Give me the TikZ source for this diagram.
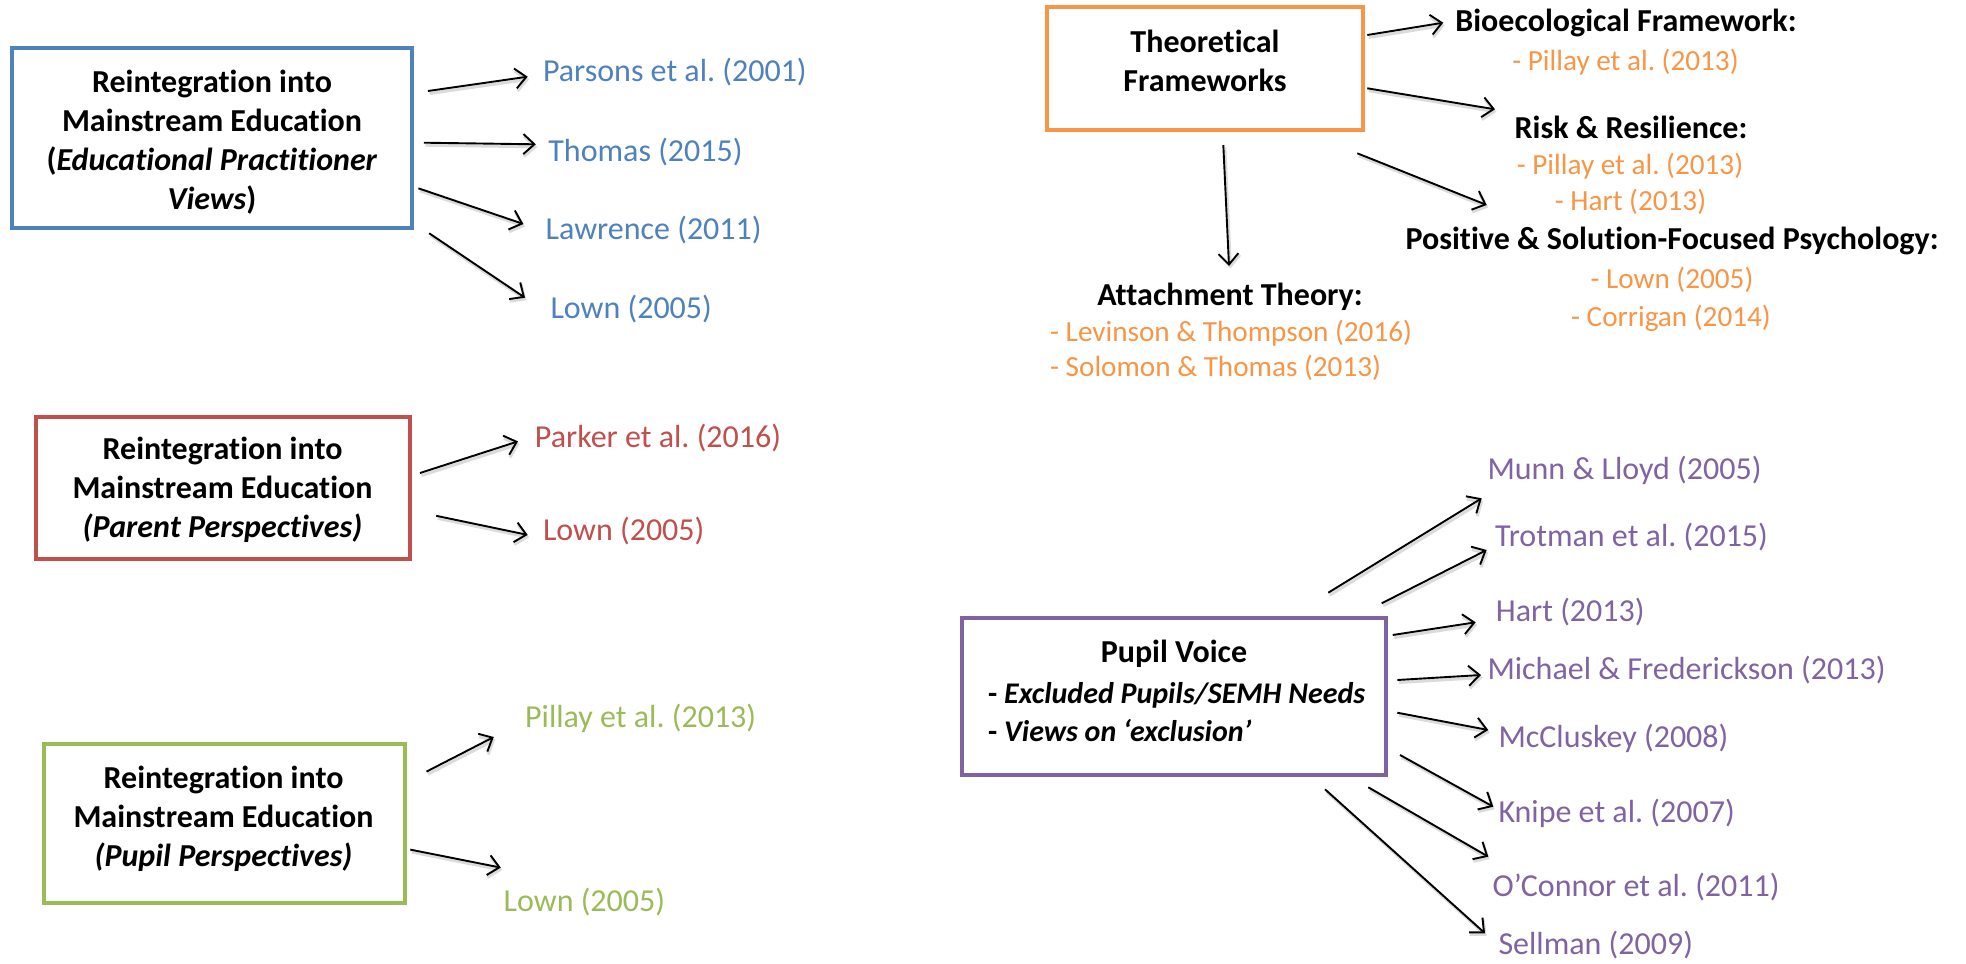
\documentclass[tikz,border=0pt]{standalone}
\usepackage{fontspec}
\setmainfont{Carlito}[Ligatures=NoCommon]
\usetikzlibrary{arrows.meta}
\definecolor{cblue}{HTML}{4F81BD}
\definecolor{cred}{HTML}{C0504D}
\definecolor{cgreen}{HTML}{9BBB59}
\definecolor{corange}{HTML}{F79646}
\definecolor{cpurple}{HTML}{8064A2}
\frenchspacing
\begin{document}
\begin{tikzpicture}[x=1pt,y=-1pt,
  box/.style={draw, line width=4pt, inner sep=0pt, fill=white},
  btext/.style={font=\fontsize{32}{38.8}\selectfont\bfseries, align=center, inner sep=0pt},
  ltext/.style={font=\fontsize{30}{38}\selectfont\bfseries, align=left, inner sep=0pt},
  lab/.style={font=\fontsize{32}{38}\selectfont, anchor=west, inner sep=0pt},
  clab/.style={font=\fontsize{29.2}{35}\selectfont, inner sep=0pt},
  hd/.style={font=\fontsize{32}{38}\selectfont\bfseries, inner sep=0pt},
  arr/.style={-{Straight Barb[length=11pt,width=20pt]}, line width=1.9pt,
    preaction={draw=black!14, line width=3pt, transform canvas={shift={(1.5pt,-2.5pt)}}}}]
\useasboundingbox[fill=white] (0,0) rectangle (1966,964);

% ---------- Blue group ----------
\node[box, draw=cblue, minimum width=400pt, minimum height=180.5pt] (bbox) at (212,138.2) {};
\node[btext] (btxt) at (212,142) {Reintegration into\\Mainstream Education\\(\textit{Educational Practitioner}\\\textit{Views})};
\node[lab, text=cblue] (b1) at (542.8,71.7) {Parsons et al. (2001)};
\node[lab, text=cblue] (b2) at (548.2,151.7) {Thomas (2015)};
\node[lab, text=cblue] (b3) at (545.5,230) {Lawrence (2011)};
\node[lab, text=cblue] (b4) at (550.3,309.3) {Lown (2005)};
\coordinate (b1s) at (428,91);      \coordinate (b1e) at (527.7,76.7);
\coordinate (b2s) at (423.8,142.7); \coordinate (b2e) at (535.8,144.3);
\coordinate (b3s) at (418.4,188.3); \coordinate (b3e) at (523.4,224);
\coordinate (b4s) at (429.2,233.3); \coordinate (b4e) at (525,297.7);
\draw[arr] (b1s) -- (b1e);
\draw[arr] (b2s) -- (b2e);
\draw[arr] (b3s) -- (b3e);
\draw[arr] (b4s) -- (b4e);

% ---------- Red group ----------
\node[box, draw=cred, minimum width=374.3pt, minimum height=142.5pt] (rbox) at (223.2,488.2) {};
\node[btext] (rtxt) at (222.5,489.6) {Reintegration into\\Mainstream Education\\\textit{(Parent Perspectives)}};
\node[lab, text=cred] (r1) at (534.7,437.8) {Parker et al. (2016)};
\node[lab, text=cred] (r2) at (542.8,531.3) {Lown (2005)};
\coordinate (r1s) at (420,473);     \coordinate (r1e) at (518,441.4);
\coordinate (r2s) at (436.2,515.8); \coordinate (r2e) at (527.7,534.9);
\draw[arr] (r1s) -- (r1e);
\draw[arr] (r2s) -- (r2e);

% ---------- Green group ----------
\node[box, draw=cgreen, minimum width=360.8pt, minimum height=158.7pt] (gbox) at (224.6,823.5) {};
\node[btext] (gtxt) at (223.5,819) {Reintegration into\\Mainstream Education\\\textit{(Pupil Perspectives)}};
\node[lab, text=cgreen] (g1) at (525,718.3) {Pillay et al. (2013)};
\node[lab, text=cgreen] (g2) at (503.5,901.8) {Lown (2005)};
\coordinate (g1s) at (426.5,771.6); \coordinate (g1e) at (493.8,737);
\coordinate (g2s) at (410.3,849.6); \coordinate (g2e) at (500.8,867.6);
\draw[arr] (g1s) -- (g1e);
\draw[arr] (g2s) -- (g2e);

% ---------- Orange group ----------
\node[box, draw=corange, minimum width=315.4pt, minimum height=122.7pt] (obox) at (1205,68.7) {};
\node[btext, font=\fontsize{32}{38.3}\selectfont\bfseries] (otxt) at (1205,60.8) {Theoretical\\Frameworks};
\node[hd] (o1h) at (1626,23.3) {Bioecological Framework:};
\node[clab, text=corange] (o1a) at (1625.5,61.7) {- Pillay et al. (2013)};
\node[hd] (o2h) at (1631,127.7) {Risk \& Resilience:};
\node[clab, text=corange] (o2a) at (1630,165.7) {- Pillay et al. (2013)};
\node[clab, text=corange] (o2b) at (1630.5,201.7) {- Hart (2013)};
\node[hd] (o3h) at (1672,240.7) {Positive \& Solution-Focused Psychology:};
\node[clab, text=corange] (o3a) at (1672,280) {- Lown (2005)};
\node[clab, text=corange] (o3b) at (1671,318.3) {- Corrigan (2014)};
\node[hd] (o4h) at (1230,296.7) {Attachment Theory:};
\node[clab, anchor=west, text=corange] (o4a) at (1050,333.3) {- Levinson \& Thompson (2016)};
\node[clab, anchor=west, text=corange] (o4b) at (1050,368.3) {- Solomon \& Thomas (2013)};
\coordinate (o1s) at (1367.3,35);   \coordinate (o1e) at (1443.3,22.7);
\coordinate (o2s) at (1367.3,88.3); \coordinate (o2e) at (1495,109.3);
\coordinate (o3s) at (1357.3,153.3);\coordinate (o3e) at (1486.7,205);
\coordinate (o4s) at (1223.3,145);  \coordinate (o4e) at (1229,266);
\draw[arr] (o1s) -- (o1e);
\draw[arr] (o2s) -- (o2e);
\draw[arr] (o3s) -- (o3e);
\draw[arr] (o4s) -- (o4e);

% ---------- Purple group ----------
\node[box, draw=cpurple, minimum width=423.5pt, minimum height=157pt] (pbox) at (1174,696.5) {};
\node[hd] (ptitle) at (1174,653.3) {Pupil Voice};
\node[ltext, anchor=west] (pitems) at (988,712) {- \textit{Excluded Pupils/SEMH Needs}\\- \textit{Views on ‘exclusion’}};
\node[lab, text=cpurple] (p1) at (1487.3,470) {Munn \& Lloyd (2005)};
\node[lab, text=cpurple] (p2) at (1495,536.7) {Trotman et al. (2015)};
\node[lab, text=cpurple] (p3) at (1495.7,611.7) {Hart (2013)};
\node[lab, text=cpurple] (p4) at (1487.3,670) {Michael \& Frederickson (2013)};
\node[lab, text=cpurple] (p5) at (1498.3,738.3) {McCluskey (2008)};
\node[lab, text=cpurple] (p6) at (1498.3,813.3) {Knipe et al. (2007)};
\node[lab, text=cpurple] (p7) at (1492.3,886.7) {O’Connor et al. (2011)};
\node[lab, text=cpurple] (p8) at (1498.3,945) {Sellman (2009)};
\coordinate (p1s) at (1328.3,592.7); \coordinate (p1e) at (1481.7,498.3);
\coordinate (p2s) at (1381.7,603.3); \coordinate (p2e) at (1486.7,550);
\coordinate (p3s) at (1392.7,635);   \coordinate (p3e) at (1475.7,622.3);
\coordinate (p4s) at (1397.3,680);   \coordinate (p4e) at (1481,675);
\coordinate (p5s) at (1397.3,712.7); \coordinate (p5e) at (1488.3,730);
\coordinate (p6s) at (1400,755);     \coordinate (p6e) at (1493.3,806.7);
\coordinate (p7s) at (1368.3,787.3); \coordinate (p7e) at (1488.3,856.7);
\coordinate (p8s) at (1325,789.3);   \coordinate (p8e) at (1485,933.3);
\foreach \i in {1,...,8} {\draw[arr] (p\i s) -- (p\i e);}
\end{tikzpicture}
\end{document}
